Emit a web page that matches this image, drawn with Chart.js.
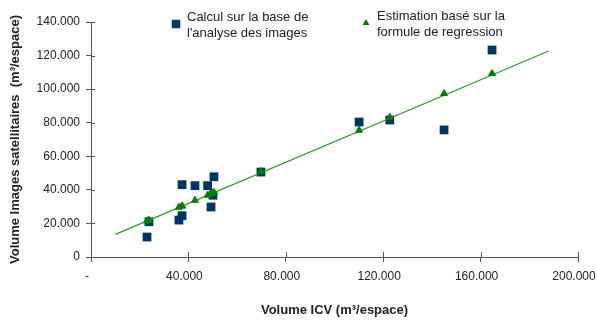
<!DOCTYPE html>
<html lang="fr">
  <head>
    <meta charset="UTF-8" />
    <title>Volume ICV vs images satellitaires</title>
    <script src="https://cdn.jsdelivr.net/npm/chart.js"></script>
    <style>
      html, body {
        margin: 0;
        padding: 0;
        background: #fff;
      }
      #wrap {
        width: 597px;
        height: 323px;
      }
    </style>
  </head>
  <body>
    <div id="wrap"><canvas id="chart"></canvas></div>

    <script>
      // values
      const icvX = [23000, 23800, 36100, 37400, 37400, 42700, 47900, 49300, 50100, 50500, 69800, 110100, 122700, 145000, 164700];
      const imageY = [11900, 21000, 22000, 24600, 43100, 42500, 42500, 29800, 36800, 47800, 50600, 80400, 81600, 75700, 123300];
      const estimY = [21500, 22000, 29600, 30400, 30400, 33800, 36800, 37600, 38200, 38500, 51000, 75500, 83200, 97400, 109300];
      const lineX = [10000, 188000];
      const lineY = [13500, 122700];

      const xTickLabels = ["-", "40.000", "80.000", "120.000", "160.000", "200.000"];
      const yTickLabels = ["0", "20.000", "40.000", "60.000", "80.000", "100.000", "120.000", "140.000"];

      const seriesNames = [
        ["Calcul sur la base de", "l'analyse des images"],
        ["Estimation basé sur la", "formule de regression"],
      ];

      const toPts = (xs, ys) => xs.map((x, i) => ({ x: x, y: ys[i] }));

      // two-line legend drawn by hand, like the original
      const legendPlugin = {
        id: "twoLineLegend",
        afterDraw(chart) {
          const ctx = chart.ctx;
          const items = [
            { ds: chart.data.datasets[2], mx: 176, my: 24, tx: 187, ty: 17, r: 6 },
            { ds: chart.data.datasets[0], mx: 366, my: 23, tx: 377, ty: 16, r: 4 },
          ];
          ctx.save();
          ctx.font = "13px 'Liberation Sans', Arial, sans-serif";
          ctx.textBaseline = "middle";
          items.forEach((it, k) => {
            ctx.fillStyle = it.ds.backgroundColor;
            Chart.helpers.drawPoint(ctx, { pointStyle: it.ds.pointStyle, radius: it.r, rotation: 0, borderWidth: 0 }, it.mx, it.my);
            ctx.fillStyle = "#222";
            seriesNames[k].forEach((line, j) => ctx.fillText(line, it.tx, it.ty + j * 16));
          });
          ctx.restore();
        },
      };

      // excel style ticks cross the axis: add the inner half
      const crossTicks = {
        id: "crossTicks",
        afterDraw(chart) {
          const ctx = chart.ctx;
          const { x, y } = chart.scales;
          ctx.save();
          ctx.strokeStyle = "#555";
          ctx.lineWidth = 1;
          ctx.beginPath();
          x.ticks.forEach((t) => {
            const px = Math.round(x.getPixelForValue(t.value)) + 0.5;
            ctx.moveTo(px, y.bottom);
            ctx.lineTo(px, y.bottom - 5);
          });
          y.ticks.forEach((t) => {
            const py = Math.round(y.getPixelForValue(t.value)) + 0.5;
            ctx.moveTo(x.left, py);
            ctx.lineTo(x.left + 4, py);
          });
          ctx.stroke();
          ctx.restore();
        },
      };

      const tickFont = { family: "'Liberation Sans', Arial, sans-serif", size: 12 };
      const titleFont = { family: "'Liberation Sans', Arial, sans-serif", size: 13, weight: "bold" };

      new Chart(document.getElementById("chart"), {
        type: "scatter",
        data: {
          datasets: [
            {
              label: seriesNames[1].join(" "),
              data: toPts(icvX, estimY),
              pointStyle: "triangle",
              pointRadius: 4,
              backgroundColor: "#008000",
              borderColor: "#008000",
              borderWidth: 1,
            },
            {
              label: "regression",
              type: "line",
              data: toPts(lineX, lineY),
              borderColor: "#2e9a2e",
              borderWidth: 1.2,
              pointRadius: 0,
              fill: false,
            },
            {
              label: seriesNames[0].join(" "),
              data: toPts(icvX, imageY),
              pointStyle: "rect",
              pointRadius: 6.2,
              backgroundColor: "#003366",
              borderColor: "#003366",
              borderWidth: 0,
            },
          ],
        },
        options: {
          responsive: true,
          maintainAspectRatio: false,
          animation: false,
          layout: { padding: { top: 22, right: 19, left: 0, bottom: 0 } },
          plugins: {
            legend: { display: false },
            tooltip: { enabled: false },
          },
          scales: {
            x: {
              type: "linear",
              min: 0,
              max: 200000,
              afterBuildTicks: (s) => {
                s.ticks = xTickLabels.map((_, i) => ({ value: i * 40000 }));
              },
              afterFit: (s) => {
                s.height = 66;
                s.paddingRight = 0;
                s.paddingLeft = 0;
              },
              grid: { drawOnChartArea: false, tickLength: 5, color: "#555" },
              border: { color: "#555", width: 1 },
              ticks: {
                font: tickFont,
                color: "#222",
                padding: 7,
                labelOffset: -4,
                maxRotation: 0,
                callback: (v, i) => xTickLabels[i],
              },
              title: {
                display: true,
                text: "Volume ICV (m³/espace)",
                font: titleFont,
                color: "#222",
                padding: { top: 0, bottom: 5 },
              },
            },
            y: {
              type: "linear",
              min: 0,
              max: 140000,
              afterBuildTicks: (s) => {
                s.ticks = yTickLabels.map((_, i) => ({ value: i * 20000 }));
              },
              afterFit: (s) => {
                s.width = 91;
              },
              grid: { drawOnChartArea: false, tickLength: 5, color: "#555" },
              border: { color: "#555", width: 1 },
              ticks: {
                font: tickFont,
                color: "#222",
                padding: 6,
                callback: (v, i) => yTickLabels[i],
              },
              title: {
                display: true,
                text: "Volume Images satellitaires  (m³/espace)",
                font: titleFont,
                color: "#222",
                padding: { top: 8, bottom: 0 },
              },
            },
          },
        },
        plugins: [legendPlugin, crossTicks],
      });
    </script>
  </body>
</html>
